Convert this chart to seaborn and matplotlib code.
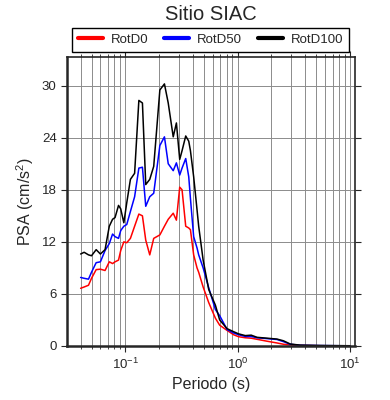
import numpy as np
import pandas as pd
import matplotlib
matplotlib.use('Agg')
import matplotlib.pyplot as plt
import seaborn as sns

# periodos (s) y espectros de respuesta (cm/s2)
periodos = [0.04, 0.043, 0.047, 0.05, 0.055, 0.06, 0.066, 0.072, 0.077, 0.081,
            0.087, 0.091, 0.097, 0.103, 0.111, 0.121, 0.132, 0.142, 0.152, 0.165,
            0.179, 0.203, 0.223, 0.241, 0.267, 0.285, 0.305, 0.32, 0.345, 0.367,
            0.38, 0.406, 0.435, 0.45, 0.493, 0.553, 0.634, 0.692, 0.805, 0.92,
            1.02, 1.17, 1.32, 1.49, 1.83, 2.24, 2.56, 2.94, 3.6, 5.4, 10.0]

rotd0 = [6.65, 6.8, 7.0, 7.8, 8.8, 8.85, 8.7, 9.7, 9.5, 9.7,
         9.9, 11.0, 12.0, 11.9, 12.4, 13.8, 15.2, 15.0, 12.2, 10.5,
         12.4, 12.8, 13.8, 14.6, 15.3, 14.5, 18.3, 18.0, 13.8, 13.6,
         13.4, 10.5, 9.0, 8.5, 6.8, 5.0, 3.2, 2.4, 1.8, 1.3,
         1.07, 0.95, 0.9, 0.77, 0.55, 0.35, 0.2, 0.12, 0.06, 0.03, 0.01]

rotd50 = [7.9, 7.8, 7.7, 8.5, 9.6, 9.7, 11.0, 11.8, 12.9, 12.6,
          12.4, 13.3, 13.8, 14.0, 15.5, 17.2, 20.5, 20.6, 16.1, 17.2,
          17.6, 23.1, 24.1, 21.0, 20.2, 21.1, 19.7, 20.5, 21.6, 19.5,
          17.0, 12.6, 11.3, 10.5, 9.0, 6.7, 4.2, 3.5, 1.9, 1.5,
          1.3, 1.1, 1.1, 0.95, 0.85, 0.75, 0.5, 0.2, 0.08, 0.05, 0.02]

rotd100 = [10.6, 10.8, 10.5, 10.4, 11.1, 10.6, 11.1, 13.8, 14.6, 14.8,
           16.2, 15.8, 14.2, 16.5, 19.2, 19.9, 28.3, 28.0, 18.6, 19.2,
           20.7, 29.5, 30.2, 28.0, 24.1, 25.7, 21.5, 22.5, 24.2, 23.6,
           22.5, 19.5, 15.7, 13.8, 9.9, 6.5, 4.7, 3.0, 2.0, 1.65,
           1.4, 1.2, 1.25, 1.0, 0.9, 0.8, 0.6, 0.23, 0.1, 0.06, 0.03]

componentes = ['RotD0', 'RotD50', 'RotD100']
colores = {'RotD0': 'red', 'RotD50': 'blue', 'RotD100': 'black'}

df = pd.DataFrame({
    'Periodo': periodos * 3,
    'PSA': rotd0 + rotd50 + rotd100,
    'Componente': np.repeat(componentes, len(periodos)),
})

sns.set_style('ticks')
plt.rcParams['font.family'] = ['Liberation Sans', 'DejaVu Sans']
plt.rcParams['mathtext.fontset'] = 'custom'
plt.rcParams['mathtext.rm'] = 'Liberation Sans'

fig = plt.figure(figsize=(3.9, 4.0), dpi=100)
ax = fig.add_axes([0.172, 0.135, 0.738, 0.7225])

sns.lineplot(data=df, x='Periodo', y='PSA', hue='Componente', hue_order=componentes,
             palette=colores, linewidth=1.1, ax=ax, legend=False, sort=False)

ax.set_xscale('log')
ax.set_xlim(0.0303, 11.07)
ax.set_ylim(0, 33.3)
ax.set_yticks([0, 6, 12, 18, 24, 30])

ax.grid(True, which='both', axis='x', color='#8c8c8c', linewidth=0.7)
ax.grid(True, which='major', axis='y', color='#8c8c8c', linewidth=0.7)
ax.set_axisbelow(True)

for s in ['left', 'bottom']:
    ax.spines[s].set_linewidth(1.8)
for s in ['right', 'top']:
    ax.spines[s].set_linewidth(1.2)

ax.tick_params(axis='both', which='major', direction='out', length=4, width=0.8,
               labelsize=9.5, top=True, right=True)
ax.tick_params(axis='x', which='minor', direction='out', length=2.5, width=0.6, top=True)

ax.set_xlabel('Periodo (s)', fontsize=11.5)
ax.set_ylabel('PSA (cm/s$^2$)', fontsize=11.5)

# leyenda y titulo
handles = [plt.Line2D([], [], color=colores[c], linewidth=3) for c in componentes]
fig.legend(handles, componentes, loc='center', bbox_to_anchor=(0.54, 0.9), ncol=3,
           frameon=True, fancybox=False, edgecolor='black', fontsize=9.5,
           handlelength=1.9, columnspacing=1.2, handletextpad=0.6,
           borderpad=0.45, framealpha=1)
fig.text(0.54, 0.965, 'Sitio SIAC', ha='center', va='center', fontsize=14.5)

fig.savefig('out.png', dpi=100)
